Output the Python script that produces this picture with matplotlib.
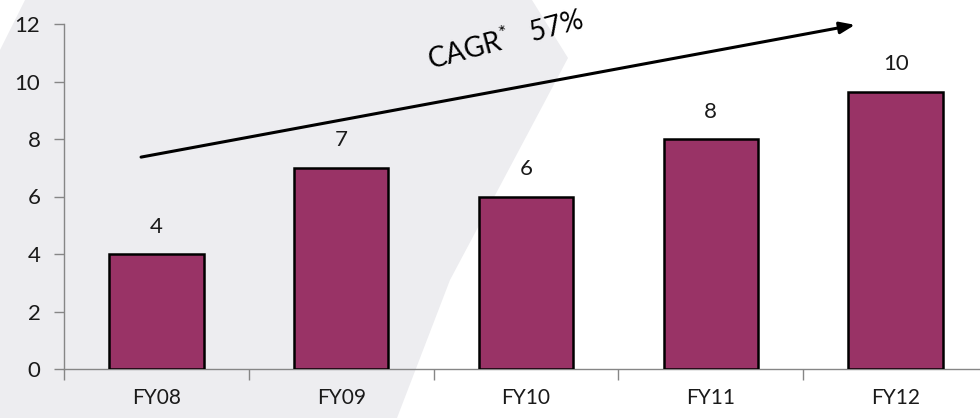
import numpy as np
import matplotlib.pyplot as plt
from matplotlib.patches import Polygon

plt.rcParams["font.family"] = ["Lato", "DejaVu Sans"]
plt.rcParams["mathtext.fontset"] = "custom"
plt.rcParams["mathtext.rm"] = "Lato"
plt.rcParams["mathtext.default"] = "regular"

# %% Data
years = ["FY08", "FY09", "FY10", "FY11", "FY12"]
revenue = [4, 7, 6, 8, 9.65]
cagr_text = "CAGR$^{*}$   57%"

bar_color = "#993366"
axis_color = "#868686"
text_color = "#1a1a1a"

# %% Plot
fig = plt.figure(figsize=(9.8, 4.18), dpi=100)
fig.patch.set_facecolor("white")

# light grey backdrop shape behind the chart, in pixel units of a full-figure axes
bg_ax = fig.add_axes([0, 0, 1, 1], zorder=-1)
bg_ax.set_xlim(0, 980)
bg_ax.set_ylim(418, 0)
bg_ax.axis("off")
bg_ax.add_patch(Polygon([(0, 50), (25, 0), (532, 0), (568, 58), (450, 280), (397, 418), (0, 418)],
                        closed=True, facecolor="#ededf0", edgecolor="none"))

ax = fig.add_axes([64 / 980, 1 - 369 / 418, 924 / 980, 345 / 418])
ax.patch.set_alpha(0)

x = np.arange(len(years))
ax.bar(x, revenue, width=0.51, color=bar_color, edgecolor="black", linewidth=1.8, zorder=3)

for xi, v in zip(x, revenue):
    ax.text(xi, v + 0.6, f"{v:.0f}", ha="center", va="bottom", fontsize=16, color=text_color)

ax.set_xlim(-0.5, len(years) - 0.5)
ax.set_ylim(0, 12)
ax.set_yticks(np.arange(0, 13, 2))
ax.set_xticks(x)
ax.set_xticklabels(years)
ax.set_xticks(np.arange(-0.5, len(years), 1), minor=True)

for side in ["top", "right"]:
    ax.spines[side].set_visible(False)
for side in ["left", "bottom"]:
    ax.spines[side].set_color(axis_color)
    ax.spines[side].set_linewidth(1.0)

ax.tick_params(axis="y", direction="out", length=7, width=1, color=axis_color,
               labelsize=16, labelcolor=text_color, pad=10)
ax.tick_params(axis="x", which="major", length=0, labelsize=15, labelcolor=text_color, pad=14)
ax.tick_params(axis="x", which="minor", direction="out", length=8, width=1, color=axis_color)

# growth arrow with CAGR label
ax.annotate("", xy=(3.78, 11.97), xytext=(-0.083, 7.37),
            arrowprops=dict(arrowstyle="-|>,head_length=0.9,head_width=0.35", color="black",
                            lw=2.2, shrinkA=0, shrinkB=0), zorder=4)
ax.text(1.89, 11.45, cagr_text, rotation=15, ha="center", va="center", fontsize=20,
        color="black", rotation_mode="anchor")

fig.savefig("out.png", dpi=100)
